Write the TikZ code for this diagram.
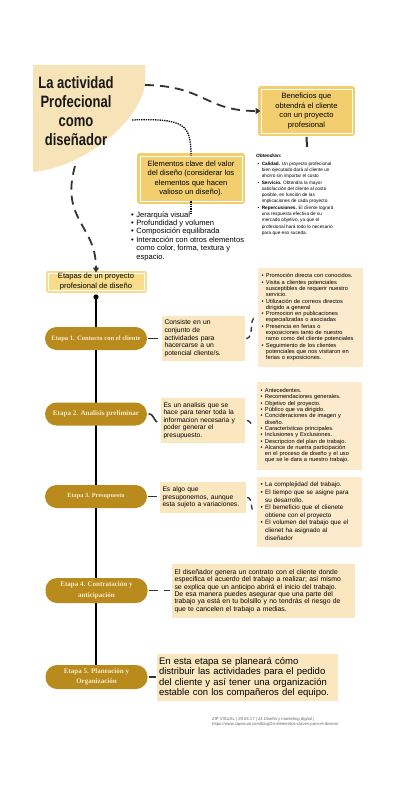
\documentclass[tikz,border=0pt]{standalone}
\usepackage{fontspec}
\setmainfont{Liberation Sans}
\newfontfamily\pillfont{Liberation Serif}
\newfontfamily\titlefont{Liberation Sans}[FakeStretch=0.79]
\usetikzlibrary{arrows.meta}
\definecolor{titlefill}{HTML}{F7E3B8}
\definecolor{gold}{HTML}{F2CE6E}
\definecolor{etapafill}{HTML}{F7DC8C}
\definecolor{pillc}{HTML}{B98A1C}
\definecolor{pilltext}{HTML}{F8EBCF}
\definecolor{descfill}{HTML}{FAE6BF}
\definecolor{listfill}{HTML}{FBEACB}
\definecolor{linec}{HTML}{333333}
\definecolor{citec}{HTML}{666666}
\newcommand\fs[2]{\fontsize{#1}{#2}\selectfont}
\newcommand\blist[1]{\begin{tabular}{@{}l@{\hspace{2.5pt}}l@{}}#1\end{tabular}}
\pgfdeclarelayer{bg}
\pgfsetlayers{bg,main}
\begin{document}
\begin{tikzpicture}[x=1pt,y=-1pt,
  gbox/.style={rectangle, fill=gold, draw=white, line width=0.9pt, align=center, inner sep=0pt,
    preaction={draw=gold, line width=6pt, line join=round}},
  ebox/.style={rectangle, fill=etapafill, draw=white, line width=0.9pt, align=center, inner sep=0pt,
    preaction={draw=etapafill, line width=5pt, line join=round}},
  pill/.style={rectangle, rounded corners=11.5pt, fill=pillc, minimum width=102pt, minimum height=23pt,
    text=pilltext, align=center, inner sep=1pt},
  desc/.style={rectangle, fill=descfill, align=left, inner xsep=2.5pt, inner ysep=1pt},
  lbox/.style={rectangle, fill=listfill, align=left, inner xsep=3.5pt, inner ysep=1pt},
  bigdash/.style={draw=linec, line width=1.8pt, dash pattern=on 9pt off 6pt},
  smalldash/.style={draw=linec, line width=1.3pt, dash pattern=on 5pt off 4pt},
  solidc/.style={draw=linec, line width=1.6pt},
  tip/.style={-{Triangle[length=5pt,width=6pt]}}
]
\begin{pgfonlayer}{bg}
\fill[white] (0,0) rectangle (400,800);
\end{pgfonlayer}
\useasboundingbox (0,0) rectangle (400,800);

% title shape
\fill[titlefill] (33,65) -- (145,65) -- (145,85) .. controls (138,125) and (80,168) .. (33,172) -- cycle;
\node[font={\titlefont\bfseries\fs{16.5}{19}}, text=black!90, align=center, inner sep=0pt] (title) at (76,111.5)
  {La actividad\\Profecional\\como\\diseñador};
\coordinate (tA) at (145,85);
\coordinate (tB) at (132,120);
\coordinate (tC) at (75,166);

% top boxes
\node[gbox, minimum width=91pt, minimum height=44pt, font={\fs{7.6}{9.4}}] (ben) at (306.5,111)
  {Beneficios que\\obtendrá el cliente\\con un proyecto\\profesional};
\node[gbox, minimum width=102pt, minimum height=45pt, font={\fs{7.6}{9.4}}] (elem) at (191,178.5)
  {Elementos clave del valor\\del diseño (considerar los\\elementos que hacen\\valioso un diseño).};

\draw[bigdash, tip] (tA) .. controls (205,86) and (205,111) .. (ben.west);
\draw[draw=black, line width=1.3pt, densely dotted] (tB) .. controls (185,118) and (191,125) .. (elem.north);
\coordinate (elemB) at (191,213);
\draw[draw=black, line width=1.3pt, densely dotted] (elem.south) -- (elemB);
\coordinate (benB) at (307,147);
\draw[solidc, line width=2pt] (ben.south) ++(0,3.5) -- (benB);

% lists near top
\node[anchor=north west, inner sep=0pt, align=left, font={\fs{7.6}{8.4}}] (elist) at (131,211)
  {\blist{\textbullet & Jerarquía visual\\
  \textbullet & Profundidad y volumen\\
  \textbullet & Composición equilibrada\\
  \textbullet & Interacción con otros elementos\\
   & como color, forma, textura y\\
   & espacio.}};

\node[anchor=north west, inner sep=0pt, font={\fs{4.7}{6.3}}] (obth) at (256,154)
  {\textbf{\textit{Obtendran:}}};
\node[anchor=north west, inner sep=0pt, font={\fs{4.7}{6.3}}] (obt) at (257.5,160.5)
  {\blist{\textbullet & \textbf{Calidad.} Un proyecto profecional\\
   & bien ejecutado dará al cliente un\\
   & ahorro sin importar el costo\\
  \textbullet & \textbf{Servicio.} Obtendra la mayor\\
   & satisfacción del cliente al costo\\
   & posible, en función de las\\
   & implicaciones de cada proyecto.\\
  \textbullet & \textbf{Repercusiones.} El cliente logrará\\
   & una respuesta efectiva de su\\
   & mercado objetivo, ya que el\\
   & profesional hará todo lo necesario\\
   & para que eso suceda.}};

% etapas
\node[ebox, minimum width=96pt, minimum height=17pt, font={\fs{7.6}{9.5}}] (etapas) at (96,281.5)
  {Etapas de un proyecto\\profesional de diseño};
\draw[bigdash, tip] (tC) .. controls (60,220) and (96,225) .. (etapas.north);

% pills
\node[pill, font={\pillfont\bfseries\fs{6.6}{7}}] (p1) at (96,338.5) {Etapa 1. Contacto con el cliente};
\node[pill, font={\pillfont\bfseries\fs{7.1}{7}}] (p2) at (96,414) {Etapa 2. Analisis preliminar};
\node[pill, font={\pillfont\bfseries\fs{6.3}{7}}] (p3) at (96,496.5) {Etapa 3. Presupuesto};
\node[pill, minimum height=25pt, font={\pillfont\bfseries\fs{7}{10.8}}] (p4) at (96.5,590.5) {Etapa 4. Contratación y\\anticipación};
\node[pill, minimum height=24pt, font={\pillfont\bfseries\fs{7}{10.2}}] (p5) at (96.5,677) {Etapa 5. Planeación y\\Organización};

\coordinate (tdot) at (96,297);
\fill[black] (tdot) circle (2.6);
\begin{pgfonlayer}{bg}
\draw[black, line width=1.7pt] (tdot) -- (96,665);
\end{pgfonlayer}

% descriptions
\node[desc, text width=78pt, minimum height=45pt, font={\fs{6.8}{7.7}}] (d1) at (203.5,338.5)
  {Consiste en un\\conjunto de\\actividades para\\hacercarse a un\\potencial cliente/s.};
\node[desc, text width=79pt, minimum height=45pt, font={\fs{6.7}{7.4}}] (d2) at (203,420.5)
  {Es un analisis que se\\hace para tener toda la\\informacion necesaria y\\poder generar el\\presupuesto.};
\node[desc, text width=81pt, minimum height=31pt, font={\fs{6.7}{7.5}}] (d3) at (203,497.5)
  {Es algo que\\presuponemos, aunque\\esta sujeto a variaciones.};
\node[desc, text width=178pt, minimum height=54pt, font={\fs{6.85}{7.4}}] (d4) at (263.5,591)
  {El diseñador genera un contrato con el cliente donde\\especifica el acuerdo del trabajo a realizar; así mismo\\se explica que un anticipo abrirá el inicio del trabajo.\\De esa manera puedes asegurar que una parte del\\trabajo ya está en tu bolsillo y no tendrás el riesgo de\\que te cancelen el trabajo a medias.};
\node[desc, text width=177pt, minimum height=47pt, inner xsep=2pt, font={\fs{9.5}{10.3}}] (d5) at (247.5,677.5)
  {En esta etapa se planeará cómo\\distribuir las actividades para el pedido\\del cliente y así tener una organización\\estable con los compañeros del equipo.};

% lists
\node[lbox, text width=98pt, minimum height=99pt, font={\fs{5.7}{6.3}}] (l1) at (310.5,317.5)
  {\blist{\textbullet & Promoción directa con conocidos.\\
  \textbullet & Visita a clientes potenciales\\
   & susceptibles de requerir nuestro\\
   & servicio.\\
  \textbullet & Utilización de correos directos\\
   & dirigido a general\\
  \textbullet & Promocion en publicaciones\\
   & especializadas o asociadas\\
  \textbullet & Presencia en ferias o\\
   & exposiciones tanto de nuestro\\
   & ramo como del cliente potenciales\\
  \textbullet & Seguimiento de los clientes\\
   & potenciales que nos visitaron en\\
   & ferias o exposiciones.}};
\node[lbox, text width=98pt, minimum height=88pt, font={\fs{5.7}{6.3}}] (l2) at (309.5,426)
  {\blist{\textbullet & Antecedentes.\\
  \textbullet & Recomendaciones generales.\\
  \textbullet & Objetivo del proyecto.\\
  \textbullet & Público que va dirigido.\\
  \textbullet & Concideraciones de imagen y\\
   & diseño.\\
  \textbullet & Características principales.\\
  \textbullet & Inclusiones y Exclusiones.\\
  \textbullet & Descripcion del plan de trabajo.\\
  \textbullet & Alcance de nuetra participación\\
   & en el proceso de diseño y el uso\\
   & que se le dara a nuestro trabajo.}};
\node[lbox, text width=98pt, minimum height=70pt, font={\fs{6.3}{7.6}}] (l3) at (309.5,512)
  {\blist{\textbullet & La complejidad del trabajo.\\
  \textbullet & El tiempo que se asigne para\\
   & su desarrollo.\\
  \textbullet & El bemeficio que el clienete\\
   & obtiene con el proyecto\\
  \textbullet & El volumen del trabajo que el\\
   & clienet ha asignado al\\
   & diseñador}};

% pill -> description connectors
\draw[solidc, shorten <=1pt, shorten >=4pt] (p1.east) -- (d1.west |- p1.east);
\draw[solidc, shorten <=1.5pt, shorten >=4pt] (p2.east) to[out=10,in=200] (d2.west);
\draw[solidc, shorten <=1pt, shorten >=3pt] (p3.east) -- (d3.west |- p3.east);
\draw[bigdash, line width=1.6pt, dash pattern=on 9pt off 6pt, shorten <=1pt, shorten >=2pt] (p4.east) -- (d4.west |- p4.east);
\draw[solidc, shorten <=1pt, shorten >=1pt] (p5.east) -- (d5.west |- p5.east);

% description -> list connectors
\draw[smalldash, shorten <=1pt, shorten >=2pt] (d1.east) to[out=0,in=180] (l1.west);
\draw[smalldash, shorten <=2pt, shorten >=3pt] (d2.east) to[out=0,in=180] (l2.west);
\draw[smalldash, shorten <=1pt, shorten >=2pt] (d3.east) to[out=0,in=180] (l3.west);

% citation
\node[anchor=north west, inner sep=0pt, align=left, text=citec, font={\fs{4.2}{5}}] (cite) at (212,717)
  {ZIP VISUAL | 29.03.17 | 24 Diseño y marketing digital |\\https://www.zipvisual.com/blog/24-elementos-claves-para-el-diseno/};
\end{tikzpicture}
\end{document}
